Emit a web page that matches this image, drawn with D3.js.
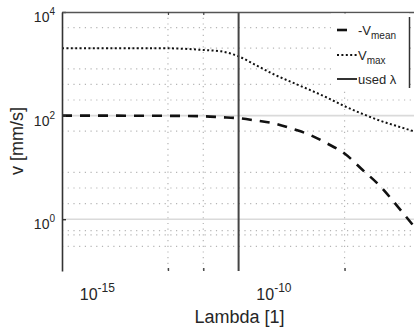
<!DOCTYPE html>
<html>
<head>
<meta charset="utf-8">
<script src="https://cdn.jsdelivr.net/npm/d3@7"></script>
<style>
  html, body { margin: 0; padding: 0; background: #fff; }
  svg { display: block; font-family: "Liberation Sans", Arial, sans-serif; }
</style>
</head>
<body>
<svg id="chart" width="414" height="330"></svg>
<script>
// values
const lambda = [1e-16, 1e-15, 1e-14, 1e-13, 1e-12, 3.2e-12, 1e-11, 3.2e-11, 1e-10,
                3.2e-10, 1e-9, 3.2e-9, 1e-8, 3.2e-8, 1e-7, 3.2e-7, 1e-6];
const vMean = [100, 100, 99.5, 99, 97, 93, 89, 80, 71, 56, 43, 29, 18.5, 9, 4.4, 1.75, 0.68];
const vMax = [2000, 2000, 2000, 1990, 1850, 1740, 1390, 930, 624, 441, 317, 222, 152, 108, 80, 62, 49];
const usedLambda = 1e-11;

const xTicks = [1e-15, 1e-10];
const xTickExp = ['-15', '-10'];
const xMinorGrid = [1e-13, 1e-12, 1e-8];
const yTicks = [1, 100, 10000];
const yTickExp = ['0', '2', '4'];
const yMajorGrid = [1, 100];
const yMinorGrid = [0.3, 0.5, 0.6, 2, 4, 8, 50, 200, 400, 800, 2000, 5000];

const legendNames = [['-V', 'mean'], ['V', 'max'], ['used \u03bb', '']];

const pL = 62, pT = 12, pR = 415.2, pB = 271;
const svg = d3.select('#chart');

const x = d3.scaleLog().domain([1e-16, 1e-6]).range([pL, pR]);
const y = d3.scaleLog().domain([0.1, 1e4]).range([pB, pT]);

svg.append('clipPath').attr('id', 'plot')
    .append('rect')
    .attr('x', pL).attr('y', pT)
    .attr('width', pR - pL).attr('height', pB - pT);

// grid
const grid = svg.append('g');
grid.selectAll('line.hmin')
    .data(yMinorGrid)
    .join('line')
    .attr('x1', pL).attr('x2', pR)
    .attr('y1', d => y(d)).attr('y2', d => y(d))
    .attr('stroke', '#b5b5b5')
    .attr('stroke-width', 1.2)
    .attr('stroke-dasharray', '1.2,4.5');
grid.selectAll('line.vmin')
    .data(xMinorGrid)
    .join('line')
    .attr('x1', d => x(d)).attr('x2', d => x(d))
    .attr('y1', pT).attr('y2', pB)
    .attr('stroke', '#b5b5b5')
    .attr('stroke-width', 1.2)
    .attr('stroke-dasharray', '1.2,4.5');
grid.selectAll('line.hmaj')
    .data(yMajorGrid)
    .join('line')
    .attr('x1', pL).attr('x2', pR)
    .attr('y1', d => y(d)).attr('y2', d => y(d))
    .attr('stroke', '#dadada')
    .attr('stroke-width', 1.6);

// curves
const line = (vals) => d3.line()
    .x((d, i) => x(lambda[i]))
    .y(d => y(d))
    .curve(d3.curveMonotoneX)(vals);

const curves = svg.append('g').attr('clip-path', 'url(#plot)');
curves.append('path')
    .attr('d', line(vMean))
    .attr('fill', 'none')
    .attr('stroke', '#111')
    .attr('stroke-width', 2.6)
    .attr('stroke-dasharray', '10,8');
curves.append('path')
    .attr('d', line(vMax))
    .attr('fill', 'none')
    .attr('stroke', '#111')
    .attr('stroke-width', 2)
    .attr('stroke-dasharray', '2,2.4');
curves.append('line')
    .attr('x1', x(usedLambda)).attr('x2', x(usedLambda))
    .attr('y1', pT).attr('y2', pB)
    .attr('stroke', '#444')
    .attr('stroke-width', 2);

// axes
const gy = svg.append('g')
    .attr('transform', `translate(${pL},0)`)
    .call(d3.axisLeft(y).tickValues(yTicks).tickSize(-4).tickSizeOuter(0).tickFormat(''));
gy.select('.domain').attr('stroke', '#333').attr('stroke-width', 1.6);
gy.selectAll('.tick line').attr('stroke', '#333').attr('stroke-width', 1.4);

const gTop = svg.append('g')
    .attr('transform', `translate(0,${pT})`)
    .call(d3.axisTop(x).tickValues(xMinorGrid).tickSize(-3).tickSizeOuter(0).tickFormat(''));
gTop.select('.domain').attr('stroke', '#555').attr('stroke-width', 1.3);
gTop.selectAll('.tick line').attr('stroke', '#444').attr('stroke-width', 1.2);

const gBot = svg.append('g')
    .attr('transform', `translate(0,${pB})`)
    .call(d3.axisBottom(x).tickValues(xMinorGrid).tickSize(-3).tickFormat(''));
gBot.select('.domain').remove();
gBot.selectAll('.tick line').attr('stroke', '#444').attr('stroke-width', 1.4);

// tick labels
const ylab = svg.selectAll('text.ylab')
    .data(yTicks)
    .join('text')
    .attr('class', 'ylab')
    .attr('x', 55)
    .attr('y', d => y(d) + 10)
    .attr('text-anchor', 'end')
    .attr('fill', '#262626');
ylab.append('tspan').attr('font-size', 14).text('10');
ylab.append('tspan').attr('font-size', 10).attr('dy', -7).text((d, i) => yTickExp[i]);

const xlab = svg.selectAll('text.xlab')
    .data(xTicks)
    .join('text')
    .attr('class', 'xlab')
    .attr('x', d => x(d))
    .attr('y', 300)
    .attr('text-anchor', 'middle')
    .attr('fill', '#262626');
xlab.append('tspan').attr('font-size', 16).text('10');
xlab.append('tspan').attr('font-size', 12).attr('dy', -8).text((d, i) => xTickExp[i]);

svg.append('text')
    .attr('x', (pL + pR) / 2 + 1)
    .attr('y', 323)
    .attr('text-anchor', 'middle')
    .attr('font-size', 18)
    .attr('fill', '#262626')
    .text('Lambda [1]');

svg.append('text')
    .attr('transform', 'translate(23,141) rotate(-90)')
    .attr('text-anchor', 'middle')
    .attr('font-size', 18)
    .attr('fill', '#262626')
    .text('v [mm/s]');

// legend
const lg = svg.append('g');
lg.append('rect')
    .attr('x', 331).attr('y', 13.5)
    .attr('width', 78).attr('height', 77)
    .attr('fill', '#fff');
lg.append('line')
    .attr('x1', 409.5).attr('x2', 409.5)
    .attr('y1', 17).attr('y2', 88)
    .attr('stroke', '#333').attr('stroke-width', 1.5);

const rowY = [30, 55, 79];
const sampleStyle = [
    { w: 2.6, dash: '10,10' },
    { w: 2, dash: '2,2.4' },
    { w: 2, dash: null }
];
legendNames.forEach((n, i) => {
    lg.append('line')
        .attr('x1', 337).attr('x2', 357)
        .attr('y1', rowY[i]).attr('y2', rowY[i])
        .attr('stroke', i === 2 ? '#333' : '#111')
        .attr('stroke-width', sampleStyle[i].w)
        .attr('stroke-dasharray', sampleStyle[i].dash);
    const t = lg.append('text')
        .attr('x', 358)
        .attr('y', rowY[i] + 4.5)
        .attr('fill', '#262626');
    t.append('tspan').attr('font-size', 13).text(n[0]);
    if (n[1]) t.append('tspan').attr('font-size', 10).attr('dy', 4).text(n[1]);
});
</script>
</body>
</html>
